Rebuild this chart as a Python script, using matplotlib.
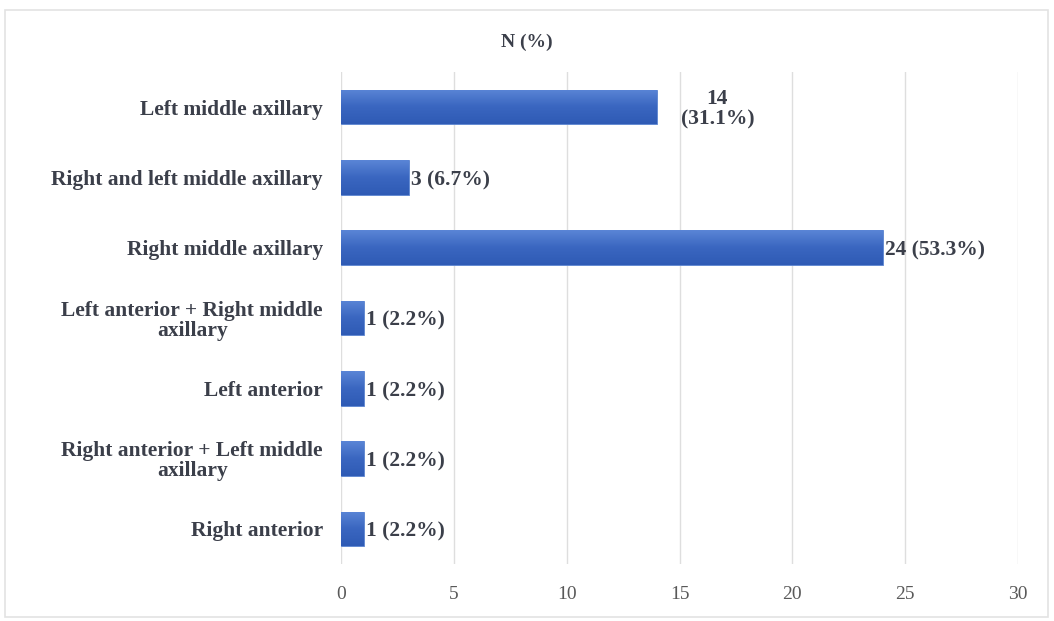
import numpy as np
import matplotlib
matplotlib.use("Agg")
import matplotlib.pyplot as plt
from matplotlib.patches import Rectangle

# data (top to bottom as shown)
categories = ["Left middle axillary",
              "Right and left middle axillary",
              "Right middle axillary",
              "Left anterior + Right middle\naxillary",
              "Left anterior",
              "Right anterior + Left middle\naxillary",
              "Right anterior"]
counts = [14, 3, 24, 1, 1, 1, 1]
labels = ["14\n(31.1%)", "3 (6.7%)", "24 (53.3%)", "1 (2.2%)",
          "1 (2.2%)", "1 (2.2%)", "1 (2.2%)"]
xticks = [0, 5, 10, 15, 20, 25, 30]

plt.rcParams['font.family'] = ['Liberation Serif', 'DejaVu Serif']

fig = plt.figure(figsize=(10.54, 6.21), dpi=100)
ax = fig.add_axes([341/1054, 1-564/621, 677/1054, 492/621])

# light frame round the chart
fig.patches.append(Rectangle((5/1054, 4/621), 1043/1054, 607/621,
                             transform=fig.transFigure, fill=False,
                             edgecolor='#e3e3e3', linewidth=1.2))

ypos = np.arange(len(categories))
bars = ax.barh(ypos, counts, height=0.49, color='#4472c4', zorder=2)

# gradient fill like the Excel bars
grad = np.linspace(0, 1, 64).reshape(-1, 1)
cmap = matplotlib.colors.LinearSegmentedColormap.from_list(
    'bluegrad', ['#5a85d6', '#3a66c0', '#2f5bb5'])
for b in bars:
    x0, y0 = b.get_x(), b.get_y()
    w, h = b.get_width(), b.get_height()
    im = ax.imshow(grad, cmap=cmap, aspect='auto', zorder=3,
                   extent=(x0, x0 + w, y0 + h, y0), origin='upper')
    im.set_clip_path(b)
    b.set_edgecolor('#5b84d0')
    b.set_linewidth(0.6)

for i, (c, lab) in enumerate(zip(counts, labels)):
    if "\n" in lab:
        ax.annotate(lab, (c, i), xytext=(17, -1.5), textcoords='offset points',
                    ha='left', va='center', multialignment='center',
                    fontsize=15.5, fontweight='bold', color='#3b3f4a',
                    linespacing=1.05)
    else:
        ax.annotate(lab, (c, i), xytext=(1.5, -2), textcoords='offset points',
                    ha='left', va='center',
                    fontsize=15.5, fontweight='bold', color='#3b3f4a')

ax.set_xlim(0, 30)
ax.set_ylim(len(categories) - 0.5, -0.5)
ax.set_xticks(xticks)
ax.set_xticklabels([str(t) for t in xticks])
ax.set_yticks(ypos)
ax.set_yticklabels(categories, multialignment='center')
ax.tick_params(axis='x', length=0, pad=16, labelsize=14, labelcolor='#595959')
ax.tick_params(axis='y', length=0, pad=13, labelsize=15.5, labelcolor='#3b3f4a')
for t in ax.get_yticklabels():
    t.set_fontweight('bold')
    t.set_linespacing(1.0)

ax.grid(axis='x', color='#dedede', linewidth=1, zorder=0)
ax.set_axisbelow(True)
for s in ax.spines.values():
    s.set_visible(False)

fig.text(527/1054, 1-42/621, "N (%)", ha='center', va='center',
         fontsize=14, fontweight='bold', color='#3b3f4a')

fig.savefig("out.png", dpi=100)
